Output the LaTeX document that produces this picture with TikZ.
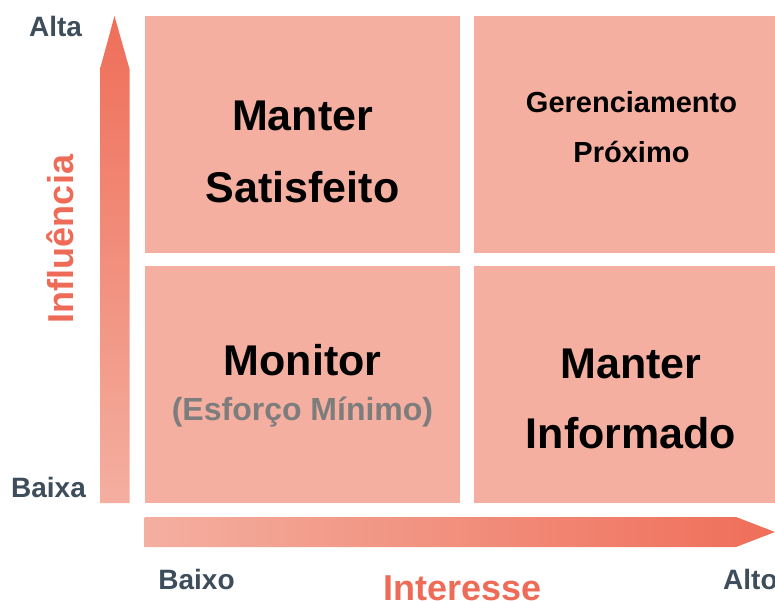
\documentclass[tikz,border=0pt]{standalone}
\usepackage{fontspec}
\setmainfont{Liberation Sans}
\usepackage{tikz}
\definecolor{quadfill}{HTML}{F4AFA0}
\definecolor{arrowdark}{HTML}{EF6E59}
\definecolor{axistext}{HTML}{EE6B57}
\definecolor{endtext}{HTML}{3E4D5C}
\definecolor{subtext}{HTML}{7D7D7D}

\begin{document}
\begin{tikzpicture}[x=1pt,y=-1pt,
    quad/.style={fill=quadfill, inner sep=0pt, minimum width=314.5pt, minimum height=237pt},
    bigtext/.style={anchor=base, font=\bfseries\fontsize{43}{43}\selectfont},
    midtext/.style={anchor=base, font=\bfseries\fontsize{29}{29}\selectfont},
    endlabel/.style={anchor=base, text=endtext, font=\bfseries\fontsize{28}{28}\selectfont},
    axislabel/.style={anchor=base, text=axistext, font=\bfseries\fontsize{36}{36}\selectfont}]
      \useasboundingbox (0,0) rectangle (775,601);
      \clip (0,0) rectangle (775,601);

      % the four quadrants
      \node[quad] (satisfeito) at (302.25,134.5) {};
      \node[quad] (proximo) at (631.5,134.5) {};
      \node[quad] (monitor) at (302.25,384.5) {};
      \node[quad] (informado) at (631.5,384.5) {};

      % arrow up, influence
      \shade[top color=arrowdark, bottom color=quadfill]
        (100,503) -- (100,69) -- (114.5,16) -- (129.5,69) -- (129.5,503) -- cycle;

      % arrow right, interest
      \shade[left color=quadfill, right color=arrowdark]
        (144.5,517) -- (736,517) -- (775,532) -- (736,547) -- (144.5,547) -- cycle;

      % write text in the quadrants
      \node[bigtext] (t11) at (302.5,131) {Manter};
      \node[bigtext] (t12) at (302.5,203) {Satisfeito};
      \node[midtext] (t21) at (631.5,113) {Gerenciamento};
      \node[midtext] (t22) at (631.5,163) {Próximo};
      \node[bigtext] (t31) at (302.5,375) {Monitor};
      \node[midtext, text=subtext, font=\bfseries\fontsize{32}{32}\selectfont] (t32) at (302.5,420) {(Esforço Mínimo)};
      \node[bigtext] (t41) at (631,378) {Manter};
      \node[bigtext] (t42) at (631,448) {Informado};

      % write ends of the axes
      \node[endlabel] (alta) at (55.5,37) {Alta};
      \node[endlabel] (baixa) at (48.5,497) {Baixa};
      \node[endlabel] (baixo) at (196.5,589) {Baixo};
      \node[endlabel, anchor=base west, inner sep=0pt] (alto) at (723,589) {Alto};

      % write axis names
      \node[axislabel, rotate=90] (influencia) at (73,239) {Influência};
      \node[axislabel] (interesse) at (462.5,600) {Interesse};
    \end{tikzpicture}
\end{document}
